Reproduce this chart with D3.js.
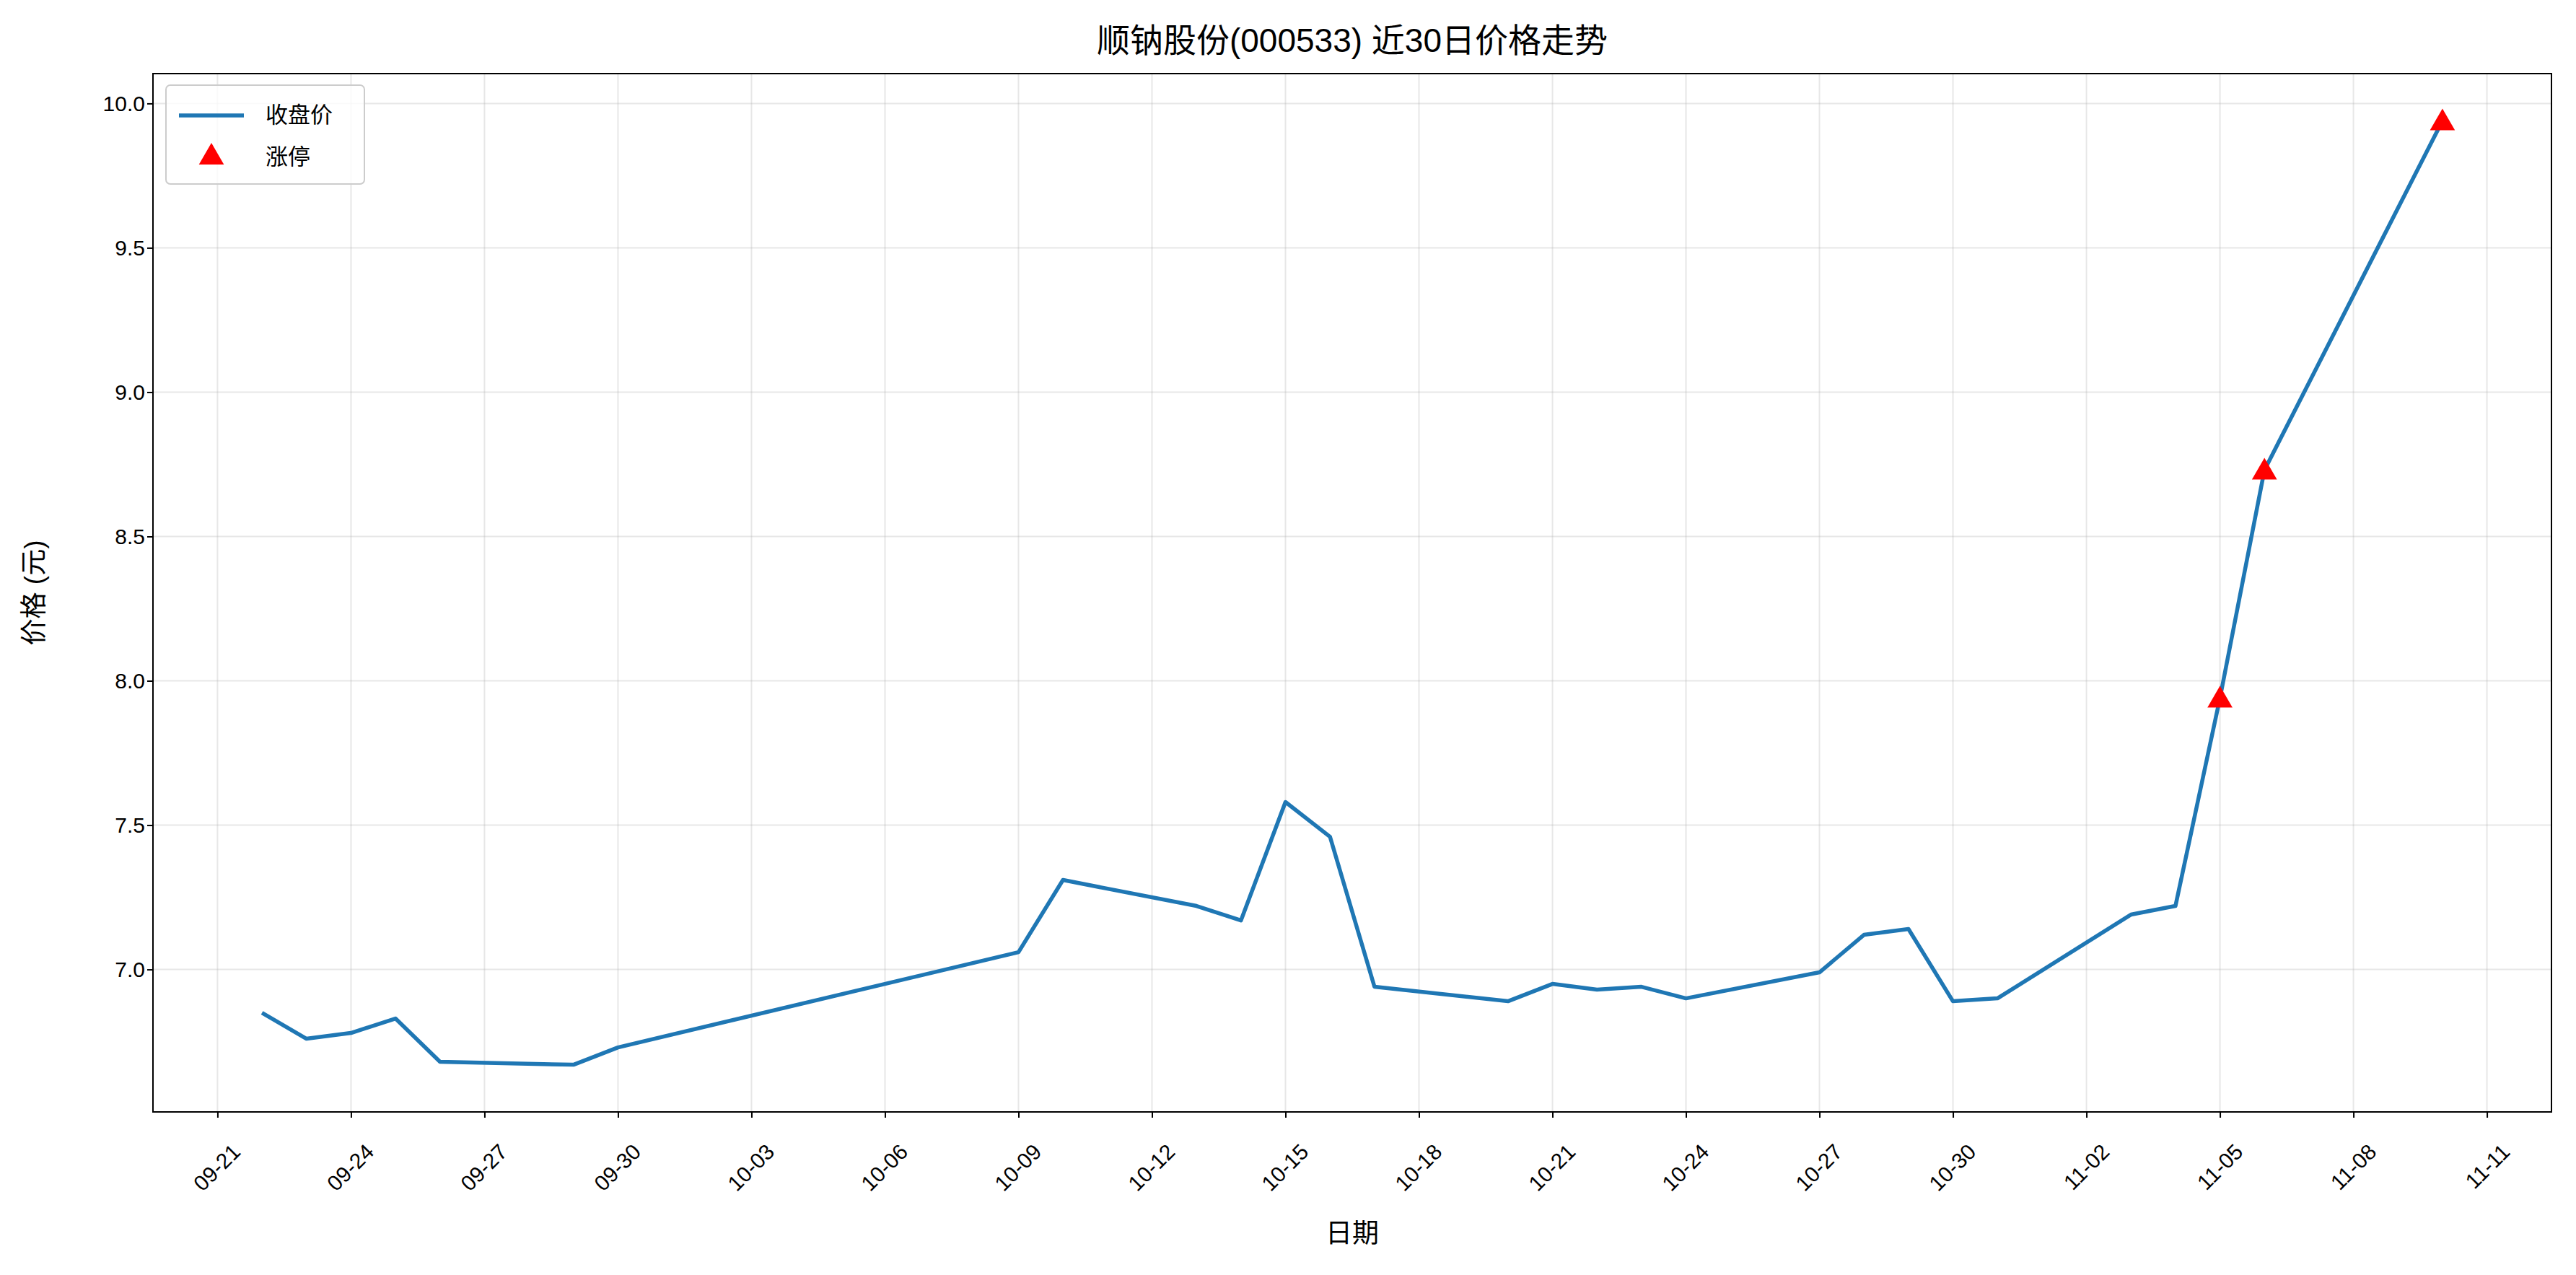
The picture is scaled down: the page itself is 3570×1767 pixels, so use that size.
<!DOCTYPE html>
<html><head><meta charset="utf-8">
<script src="https://cdn.jsdelivr.net/npm/d3@7"></script>
<style>body{margin:0;background:#fff}text{font-family:"Liberation Sans","Noto Sans CJK SC",sans-serif}</style>
</head><body><svg id="c" width="3570" height="1767"></svg>
<script>
const dates = ["09-22","09-23","09-24","09-25","09-26","09-29","09-30","10-09","10-10","10-13","10-14","10-15","10-16","10-17","10-20","10-21","10-22","10-23","10-24","10-27","10-28","10-29","10-30","10-31","11-03","11-04","11-05","11-06","11-10"];
const closes = [6.85,6.76,6.78,6.83,6.68,6.67,6.73,7.06,7.31,7.22,7.17,7.58,7.46,6.94,6.89,6.95,6.93,6.94,6.90,6.99,7.12,7.14,6.89,6.90,7.19,7.22,7.94,8.73,9.94];
const limitUp = ["11-05","11-06","11-10"];
const yTicks = [7.0,7.5,8.0,8.5,9.0,9.5,10.0];

const parse = s => new Date(2025, +s.slice(0,2)-1, +s.slice(3));
const data = dates.map((d,i)=>({date:parse(d), v:closes[i], key:d}));
const svg = d3.select("#c");
const L=212,R=3536,T=102,B=1541;
const day=864e5;
const x0=parse("09-22"), x1=parse("11-10"), span=(x1-x0)*0.05;
const x = d3.scaleTime().domain([new Date(+x0-span), new Date(+x1+span)]).range([L,R]);
const y = d3.scaleLinear().domain([6.5065,10.1035]).range([B,T]);
const xTicks = d3.range(0,18).map(i=>new Date(+parse("09-21")+i*3*day));

const g = svg.append("g");
g.selectAll(".gx").data(xTicks).join("line").attr("x1",d=>x(d)).attr("x2",d=>x(d)).attr("y1",T).attr("y2",B).attr("stroke","#b0b0b0").attr("stroke-opacity",0.3).attr("stroke-width",2);
g.selectAll(".gy").data(yTicks).join("line").attr("x1",L).attr("x2",R).attr("y1",d=>y(d)).attr("y2",d=>y(d)).attr("stroke","#b0b0b0").attr("stroke-opacity",0.3).attr("stroke-width",2);

g.append("path").datum(data).attr("fill","none").attr("stroke","#1f77b4").attr("stroke-width",5.5)
 .attr("stroke-linejoin","round").attr("d",d3.line().x(d=>x(d.date)).y(d=>y(d.v)));
const tri = d3.symbol().type(d3.symbolTriangle).size(520);
g.selectAll(".lu").data(data.filter(d=>limitUp.includes(d.key))).join("path")
 .attr("d",tri).attr("fill","red").attr("transform",d=>`translate(${x(d.date)},${y(d.v)+3})`);

svg.append("rect").attr("x",L).attr("y",T).attr("width",R-L).attr("height",B-T).attr("fill","none").attr("stroke","#000").attr("stroke-width",2);

const xa = svg.append("g").attr("transform",`translate(0,${B})`)
 .call(d3.axisBottom(x).tickValues(xTicks).tickFormat(d3.timeFormat("%m-%d")).tickSize(8).tickSizeOuter(0));
xa.select(".domain").remove();
xa.selectAll("line").attr("stroke-width",2);
xa.selectAll("text").attr("font-size",30).attr("fill","#000").attr("text-anchor","end")
 .attr("dy","0.35em").attr("transform","translate(18,42) rotate(-45)");
const ya = svg.append("g").attr("transform",`translate(${L},0)`)
 .call(d3.axisLeft(y).tickValues(yTicks).tickFormat(d3.format(".1f")).tickSize(8).tickSizeOuter(0));
ya.select(".domain").remove();
ya.selectAll("line").attr("stroke-width",2);
ya.selectAll("text").attr("font-size",30).attr("fill","#000");

svg.append("text").attr("x",(L+R)/2).attr("y",72).attr("text-anchor","middle").attr("font-size",46).text("顺钠股份(000533) 近30日价格走势");
svg.append("text").attr("x",(L+R)/2).attr("y",1722).attr("text-anchor","middle").attr("font-size",37).text("日期");
svg.append("text").attr("transform",`translate(60,${(T+B)/2}) rotate(-90)`).attr("text-anchor","middle").attr("font-size",37).text("价格 (元)");

const lg = svg.append("g").attr("transform","translate(230,118)");
lg.append("rect").attr("width",275).attr("height",137).attr("rx",6).attr("fill","#fff").attr("fill-opacity",0.8).attr("stroke","#ccc").attr("stroke-width",2);
lg.append("line").attr("x1",18).attr("x2",108).attr("y1",42).attr("y2",42).attr("stroke","#1f77b4").attr("stroke-width",5.5);
lg.append("text").attr("x",138).attr("y",52).attr("font-size",31).text("收盘价");
lg.append("path").attr("d",tri).attr("fill","red").attr("transform","translate(63,100)");
lg.append("text").attr("x",138).attr("y",110).attr("font-size",31).text("涨停");
</script></body></html>
